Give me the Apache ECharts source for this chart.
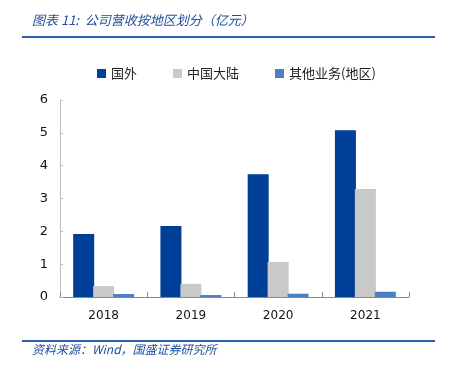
<!DOCTYPE html>
<html><head><meta charset="utf-8">
<script src="https://cdn.jsdelivr.net/npm/echarts@6/dist/echarts.min.js"></script>
<style>html,body{margin:0;padding:0;background:#fff}#c{width:449px;height:371px}</style>
</head><body><div id="c"></div>
<script>
const categories = ['2018','2019','2020','2021'];
const seriesNames = ['国外','中国大陆','其他业务(地区)'];
const foreign = [1.92, 2.16, 3.74, 5.08];
const mainland = [0.33, 0.40, 1.07, 3.29];
const other = [0.09, 0.06, 0.10, 0.16];
const yTicks = [0,1,2,3,4,5,6];
const colors = ['#003F97','#C9C9C9','#4A7FC5'];
const chart = echarts.init(document.getElementById('c'));
const cjk = '"Noto Sans CJK SC", sans-serif';
chart.setOption({
  animation:false,
  color: colors,
  graphic:[
    {type:'text', left:32, top:14, style:{text:'图表 11:  公司营收按地区划分（亿元）', font:'italic 13px "Noto Sans CJK SC", sans-serif', fill:'#1F4E9A'}},
    {type:'rect', shape:{x:22,y:36,width:413,height:2}, style:{fill:'#2E5FA8'}},
    {type:'rect', shape:{x:22,y:340,width:413,height:2}, style:{fill:'#2E5FA8'}},
    {type:'text', left:32, top:343, style:{text:'资料来源：Wind，国盛证券研究所', font:'italic 12px "Noto Sans CJK SC", sans-serif', fill:'#1F4E9A'}}
  ],
  legend:{
    top:62, left:92, itemWidth:9, itemHeight:9, itemGap:36,
    icon:'rect',
    textStyle:{fontFamily:cjk, fontSize:13, color:'#222'},
    data: seriesNames
  },
  grid:{left:60, right:40, top:100, bottom:74},
  xAxis:{
    type:'category', data:categories,
    axisLine:{lineStyle:{color:'#888'}},
    axisTick:{show:true, inside:true, length:5, lineStyle:{color:'#888'}},
    axisLabel:{fontFamily:'"DejaVu Sans", sans-serif', fontSize:12, color:'#111', margin:13}
  },
  yAxis:{
    type:'value', min:yTicks[0], max:yTicks[yTicks.length-1], interval:1,
    axisLine:{show:true, lineStyle:{color:'#BFBFBF'}},
    axisTick:{show:true, inside:true, length:3, lineStyle:{color:'#BFBFBF'}},
    splitLine:{show:false},
    axisLabel:{fontFamily:'"DejaVu Sans", sans-serif', fontSize:13, color:'#111', margin:12}
  },
  series:[
    {name:seriesNames[0], type:'bar', data:foreign, barWidth:21, barGap:'-5%'},
    {name:seriesNames[1], type:'bar', data:mainland, barWidth:21, barGap:'-5%'},
    {name:seriesNames[2], type:'bar', data:other, barWidth:21, barGap:'-5%'}
  ]
});
</script></body></html>
